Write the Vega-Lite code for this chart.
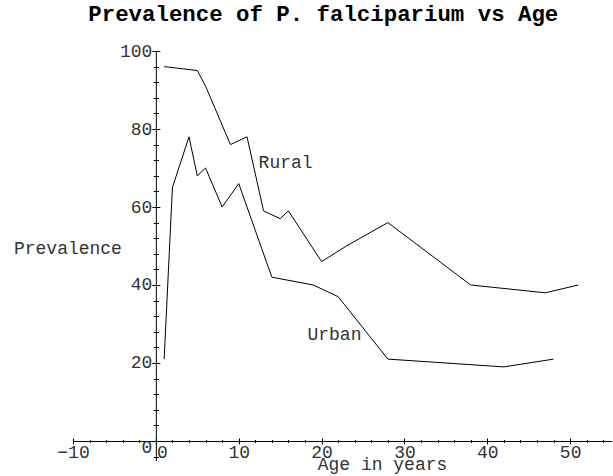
{
  "$schema": "https://vega.github.io/schema/vega-lite/v6.json",
  "width": 538.6,
  "height": 409.5,
  "autosize": {"type": "none"},
  "padding": {"left": 73, "top": 51, "right": 1, "bottom": 15},
  "background": "white",
  "title": {
    "text": "Prevalence of P. falciparium vs Age",
    "font": "Liberation Mono",
    "fontSize": 22.4,
    "fontWeight": "bold",
    "color": "black",
    "anchor": "middle",
    "frame": "group",
    "dx": -19,
    "dy": -13
  },
  "config": {"view": {"stroke": null}, "font": "Liberation Mono"},
  "layer": [
    {
      "data": {
        "values": [
          {"area": "Rural", "age": 1, "prevalence": 96},
          {"area": "Rural", "age": 5, "prevalence": 95},
          {"area": "Rural", "age": 6, "prevalence": 91},
          {"area": "Rural", "age": 9, "prevalence": 76},
          {"area": "Rural", "age": 11, "prevalence": 78},
          {"area": "Rural", "age": 13, "prevalence": 59},
          {"area": "Rural", "age": 15, "prevalence": 57},
          {"area": "Rural", "age": 16, "prevalence": 59},
          {"area": "Rural", "age": 20, "prevalence": 46},
          {"area": "Rural", "age": 23, "prevalence": 50},
          {"area": "Rural", "age": 28, "prevalence": 56},
          {"area": "Rural", "age": 38, "prevalence": 40},
          {"area": "Rural", "age": 47, "prevalence": 38},
          {"area": "Rural", "age": 51, "prevalence": 40},
          {"area": "Urban", "age": 1, "prevalence": 21},
          {"area": "Urban", "age": 2, "prevalence": 65},
          {"area": "Urban", "age": 4, "prevalence": 78},
          {"area": "Urban", "age": 5, "prevalence": 68},
          {"area": "Urban", "age": 6, "prevalence": 70},
          {"area": "Urban", "age": 8, "prevalence": 60},
          {"area": "Urban", "age": 10, "prevalence": 66},
          {"area": "Urban", "age": 14, "prevalence": 42},
          {"area": "Urban", "age": 19, "prevalence": 40},
          {"area": "Urban", "age": 22, "prevalence": 37},
          {"area": "Urban", "age": 28, "prevalence": 21},
          {"area": "Urban", "age": 42, "prevalence": 19},
          {"area": "Urban", "age": 48, "prevalence": 21}
        ]
      },
      "mark": {"type": "line", "color": "black", "strokeWidth": 1},
      "encoding": {
        "x": {
          "field": "age",
          "type": "quantitative",
          "scale": {"domain": [-10, 55], "nice": false, "zero": false},
          "axis": {
            "orient": "bottom",
            "offset": -19.5,
            "values": [-10,-8,-6,-4,-2,0,2,4,6,8,10,12,14,16,18,20,22,24,26,28,30,32,34,36,38,40,42,44,46,48,50,52,54],
            "labelExpr": "datum.value % 10 === 0 ? datum.label : ''",
            "tickSize": {"condition": {"test": "datum.value % 10 === 0", "value": 3}, "value": 1.5},
            "tickColor": "black",
            "domainColor": "black",
            "grid": false,
            "labelFont": "Liberation Mono",
            "labelFontSize": 18,
            "labelColor": "#333",
            "labelPadding": 0,
            "labelFlush": false,
            "labelOverlap": false,
            "labelOffset": {"condition": {"test": "datum.value === 0", "value": 6}, "value": 0},
            "title": "Age in years",
            "titleFont": "Liberation Mono",
            "titleFontSize": 18,
            "titleFontWeight": "normal",
            "titleColor": "#333",
            "titleX": 309,
            "titleY": 24,
            "titleAlign": "center",
            "titleBaseline": "middle"
          }
        },
        "y": {
          "field": "prevalence",
          "type": "quantitative",
          "scale": {"domain": [-5, 100], "nice": false, "zero": false},
          "axis": {
            "orient": "left",
            "offset": -82.86,
            "values": [-4,0,4,8,12,16,20,24,28,32,36,40,44,48,52,56,60,64,68,72,76,80,84,88,92,96,100],
            "labelExpr": "datum.value % 20 === 0 ? datum.label : ''",
            "tickSize": {"condition": {"test": "datum.value % 20 === 0", "value": 4}, "value": 2.5},
            "tickColor": "black",
            "domainColor": "black",
            "grid": false,
            "labelFont": "Liberation Mono",
            "labelFontSize": 18,
            "labelColor": "#333",
            "labelPadding": 0,
            "labelFlush": false,
            "labelOverlap": false,
            "labelOffset": {"condition": {"test": "datum.value === 0", "value": 7}, "value": 0},
            "title": "Prevalence",
            "titleFont": "Liberation Mono",
            "titleFontSize": 18,
            "titleFontWeight": "normal",
            "titleColor": "#333",
            "titleAngle": 0,
            "titleX": -88.4,
            "titleY": 197.3,
            "titleAlign": "center",
            "titleBaseline": "middle"
          }
        },
        "detail": {"field": "area"}
      }
    },
    {
      "data": {
        "values": [
          {"label": "Rural", "age": 12.4, "prevalence": 71.2},
          {"label": "Urban", "age": 18.3, "prevalence": 27.2}
        ]
      },
      "mark": {"type": "text", "align": "left", "baseline": "middle", "fontSize": 18, "font": "Liberation Mono", "color": "#333"},
      "encoding": {
        "x": {
          "field": "age",
          "type": "quantitative",
          "scale": {"domain": [-10, 55], "nice": false, "zero": false},
          "axis": {
            "orient": "bottom",
            "offset": -19.5,
            "values": [-10,-8,-6,-4,-2,0,2,4,6,8,10,12,14,16,18,20,22,24,26,28,30,32,34,36,38,40,42,44,46,48,50,52,54],
            "labels": false,
            "domain": false,
            "grid": false,
            "title": null,
            "tickColor": "black",
            "tickSize": {"condition": {"test": "datum.value % 10 === 0", "value": -3}, "value": -1.5}
          }
        },
        "y": {
          "field": "prevalence",
          "type": "quantitative",
          "scale": {"domain": [-5, 100], "nice": false, "zero": false},
          "axis": {
            "orient": "left",
            "offset": -82.86,
            "values": [-4,0,4,8,12,16,20,24,28,32,36,40,44,48,52,56,60,64,68,72,76,80,84,88,92,96,100],
            "labels": false,
            "domain": false,
            "grid": false,
            "title": null,
            "tickColor": "black",
            "tickSize": {"condition": {"test": "datum.value % 20 === 0", "value": -4}, "value": -2.5}
          }
        },
        "text": {"field": "label"}
      }
    }
  ],
  "resolve": {
    "scale": {"x": "independent", "y": "independent"},
    "axis": {"x": "independent", "y": "independent"}
  }
}
